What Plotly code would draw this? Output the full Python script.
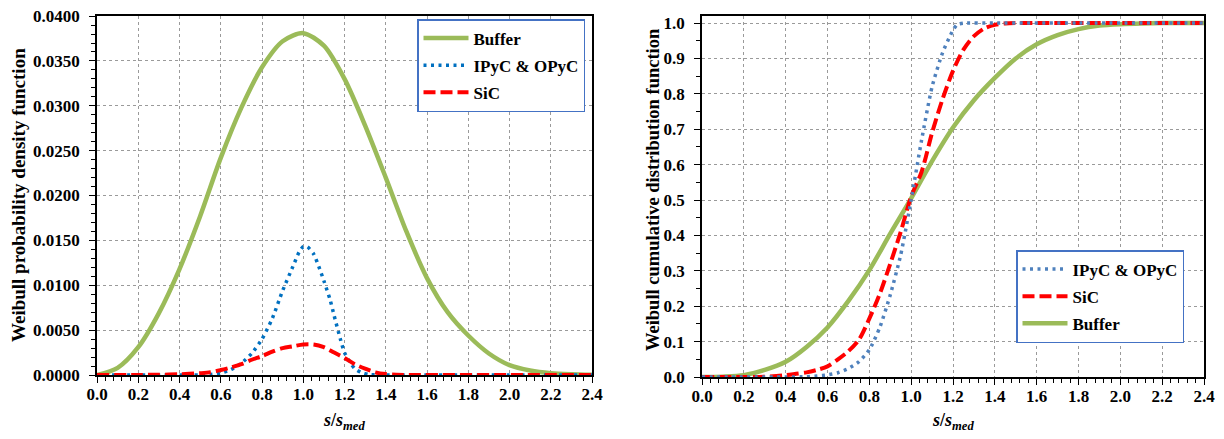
import plotly.graph_objects as go

# ---------------- data ----------------
# Left: Weibull probability density function
x_buf_pdf = [0.0, 0.1, 0.2, 0.3, 0.4, 0.5, 0.6, 0.7, 0.8, 0.9, 1.0, 1.1, 1.2, 1.3,
             1.4, 1.5, 1.6, 1.7, 1.8, 1.9, 2.0, 2.1, 2.2, 2.3, 2.4]
y_buf_pdf = [0.0, 0.0008, 0.0031, 0.0069, 0.0118, 0.0177, 0.0242, 0.0298, 0.0343,
             0.0372, 0.0381, 0.0367, 0.0330, 0.0278, 0.0220, 0.0160, 0.0108, 0.0070,
             0.0044, 0.0024, 0.0011, 0.0005, 0.0002, 0.00008, 0.00002]

x_pyc_pdf = [0.0, 0.4, 0.5, 0.55, 0.6, 0.65, 0.7, 0.75, 0.8, 0.85, 0.9, 0.95, 0.98,
             1.0, 1.02, 1.05, 1.08, 1.1, 1.13, 1.15, 1.18, 1.2, 1.23, 1.25, 1.28,
             1.32, 1.4, 1.6, 2.0, 2.4]
y_pyc_pdf = [0.0, 0.0, 0.0, 0.00005, 0.0002, 0.0006, 0.0013, 0.0024, 0.0040, 0.0063,
             0.0094, 0.0121, 0.0137, 0.0143, 0.0143, 0.0135, 0.0118, 0.0105, 0.0084,
             0.0066, 0.0040, 0.0025, 0.0013, 0.0007, 0.0003, 0.00005, 0.0, 0.0, 0.0, 0.0]

x_sic_pdf = [0.0, 0.2, 0.3, 0.4, 0.5, 0.55, 0.6, 0.65, 0.7, 0.75, 0.8, 0.85, 0.9,
             0.95, 1.0, 1.05, 1.1, 1.15, 1.2, 1.25, 1.3, 1.35, 1.4, 1.45, 1.5, 2.0, 2.4]
y_sic_pdf = [0.0, 0.00001, 0.00003, 0.00008, 0.0002, 0.0003, 0.00055, 0.00085, 0.0012,
             0.0017, 0.0021, 0.0026, 0.0030, 0.0032, 0.0034, 0.0034, 0.0031, 0.0025,
             0.0019, 0.0012, 0.0007, 0.0003, 0.0001, 0.00002, 0.0, 0.0, 0.0]

# Right: Weibull cumulative distribution function
x_pyc_cdf = [0.0, 0.4, 0.5, 0.55, 0.6, 0.65, 0.7, 0.75, 0.8, 0.85, 0.9, 0.95, 1.0,
             1.05, 1.1, 1.15, 1.2, 1.22, 1.25, 1.4, 1.8, 2.4]
y_pyc_cdf = [0.0, 0.0, 0.001, 0.003, 0.006, 0.012, 0.024, 0.043, 0.077, 0.14, 0.232,
             0.345, 0.50, 0.67, 0.82, 0.916, 0.98, 0.996, 1.0, 1.0, 1.0, 1.0]

x_sic_cdf = [0.0, 0.2, 0.3, 0.4, 0.45, 0.5, 0.55, 0.6, 0.65, 0.7, 0.75, 0.8, 0.85,
             0.9, 0.95, 1.0, 1.05, 1.1, 1.15, 1.2, 1.25, 1.3, 1.35, 1.4, 1.45, 1.5,
             2.0, 2.4]
y_sic_cdf = [0.0, 0.0, 0.001, 0.005, 0.009, 0.013, 0.02, 0.03, 0.05, 0.073, 0.105,
             0.165, 0.235, 0.32, 0.41, 0.51, 0.58, 0.69, 0.785, 0.865, 0.925, 0.963,
             0.985, 0.995, 0.999, 1.0, 1.0, 1.0]

x_buf_cdf = [0.0, 0.1, 0.2, 0.3, 0.4, 0.5, 0.6, 0.7, 0.8, 0.9, 1.0, 1.1, 1.2, 1.3,
             1.4, 1.5, 1.6, 1.7, 1.8, 1.9, 2.0, 2.1, 2.2, 2.3, 2.4]
y_buf_cdf = [0.0, 0.001, 0.005, 0.02, 0.043, 0.085, 0.14, 0.215, 0.302, 0.405, 0.505,
             0.61, 0.705, 0.782, 0.845, 0.9, 0.94, 0.966, 0.983, 0.993, 0.997, 0.999,
             1.0, 1.0, 1.0]

x_ticks = [0.0, 0.2, 0.4, 0.6, 0.8, 1.0, 1.2, 1.4, 1.6, 1.8, 2.0, 2.2, 2.4]
y_ticks_pdf = [0.0, 0.005, 0.010, 0.015, 0.020, 0.025, 0.030, 0.035, 0.040]
y_ticks_cdf = [0.0, 0.1, 0.2, 0.3, 0.4, 0.5, 0.6, 0.7, 0.8, 0.9, 1.0]

# ---------------- layout helpers ----------------
# the page body has an 8px margin; figure paper is placed at (8, 8)
OFF = 8
W, H = 1216, 431


def px(xpix):
    return (xpix - OFF) / W


def py(ypix):
    return 1 - (ypix - OFF) / H


# ---------------- styles ----------------
GREEN = "#9BBB59"
BLUE_L = "#0070C0"
BLUE_R = "#4F81BD"
RED = "#FF0000"
FONT = "Liberation Serif, Times New Roman, Times, serif"
green_line = dict(color=GREEN, width=4.5, shape="spline", smoothing=0.8)
red_line = dict(color=RED, width=4, dash="12px,5px", shape="spline", smoothing=0.8)

fig = go.Figure()

# Left chart traces
fig.add_trace(go.Scatter(x=x_buf_pdf, y=y_buf_pdf, mode="lines", name="<b>Buffer</b>",
                         line=green_line, xaxis="x", yaxis="y", legend="legend",
                         legendgroup="a"))
fig.add_trace(go.Scatter(x=x_pyc_pdf, y=y_pyc_pdf, mode="lines",
                         name="<b>IPyC &amp; OPyC</b>",
                         line=dict(color=BLUE_L, width=3.5, dash="3px,4.5px",
                                   shape="spline", smoothing=0.6),
                         xaxis="x", yaxis="y", legend="legend", legendgroup="b"))
fig.add_trace(go.Scatter(x=x_sic_pdf, y=y_sic_pdf, mode="lines", name="<b>SiC</b>",
                         line=red_line, xaxis="x", yaxis="y", legend="legend",
                         legendgroup="c"))

# Right chart traces
fig.add_trace(go.Scatter(x=x_buf_cdf, y=y_buf_cdf, mode="lines", name="<b>Buffer</b>",
                         line=green_line, xaxis="x2", yaxis="y2", legend="legend2",
                         legendgroup="f", legendrank=3))
fig.add_trace(go.Scatter(x=x_sic_cdf, y=y_sic_cdf, mode="lines", name="<b>SiC</b>",
                         line=red_line, xaxis="x2", yaxis="y2", legend="legend2",
                         legendgroup="e", legendrank=2))
fig.add_trace(go.Scatter(x=x_pyc_cdf, y=y_pyc_cdf, mode="lines",
                         name="<b>IPyC &amp; OPyC</b>",
                         line=dict(color=BLUE_R, width=3.5, dash="3px,4.5px",
                                   shape="spline", smoothing=0.6),
                         xaxis="x2", yaxis="y2", legend="legend2", legendgroup="d",
                         legendrank=1))

tickfont = dict(family=FONT, size=17, color="black", weight="bold")
grid = dict(showgrid=True, gridcolor="#9a9a9a", gridwidth=1, griddash="dot",
            zeroline=False, showline=True, linecolor="black", linewidth=1.6,
            mirror=True, ticks="outside", ticklen=6, tickwidth=1.3,
            tickcolor="black", tickfont=tickfont, automargin=False,
            ticklabeloverflow="allow")

xcommon = dict(range=[0, 2.4], tickvals=x_ticks, tickformat=".1f",
               ticklabelstandoff=-3,
               minor=dict(dtick=0.04, ticks="outside", ticklen=4, tickcolor="black",
                          tickwidth=1.2, showgrid=False), **grid)

legend_common = dict(bgcolor="white", bordercolor="#4472C4", borderwidth=1.5,
                     font=dict(family=FONT, size=17, color="black"),
                     traceorder="grouped", tracegroupgap=2, itemwidth=45)

fig.update_layout(
    width=W, height=H,
    paper_bgcolor="white", plot_bgcolor="white",
    margin=dict(l=0, r=0, t=0, b=0, autoexpand=False),
    showlegend=True,
    font=dict(family=FONT, color="black"),
    xaxis=dict(domain=[px(97), px(592)], anchor="y", **xcommon),
    xaxis2=dict(domain=[px(702), px(1204)], anchor="y2", **xcommon),
    yaxis=dict(domain=[py(375), py(16)], anchor="x", range=[0, 0.04001],
               tickvals=y_ticks_pdf, tickformat=".4f", ticklabelstandoff=6,
               minor=dict(dtick=0.001, ticks="outside", ticklen=4, tickcolor="black",
                          tickwidth=1.2, showgrid=False), **grid),
    yaxis2=dict(domain=[py(377), py(16)], anchor="x2", range=[0, 1.02],
                tickvals=y_ticks_cdf, tickformat=".1f", ticklabelstandoff=6,
                minor=dict(dtick=0.05, ticks="outside", ticklen=4, tickcolor="black",
                           tickwidth=1.2, showgrid=False), **grid),
    legend=dict(x=px(585), xanchor="right", y=py(19), yanchor="top", **legend_common),
    legend2=dict(x=px(1184), xanchor="right", y=py(250), yanchor="top", **legend_common),
)

annotations = [
    dict(text="<b>Weibull probability density function</b>", x=px(18), y=py(195),
         textangle=-90, font=dict(family=FONT, size=19, color="black")),
    dict(text="<b>Weibull cumulative distribution function</b>", x=px(653),
         y=py(190), textangle=-90, font=dict(family=FONT, size=18.5, color="black")),
    dict(text="<b><i>s</i>/<i>s</i><sub><i>med</i></sub></b>", x=px(344), y=py(421),
         font=dict(family=FONT, size=18, color="black")),
    dict(text="<b><i>s</i>/<i>s</i><sub><i>med</i></sub></b>", x=px(953), y=py(421),
         font=dict(family=FONT, size=18, color="black")),
]
for a in annotations:
    a.update(xref="paper", yref="paper", showarrow=False, xanchor="center",
             yanchor="middle")
fig.update_layout(annotations=annotations)

fig.write_html("out.html")
